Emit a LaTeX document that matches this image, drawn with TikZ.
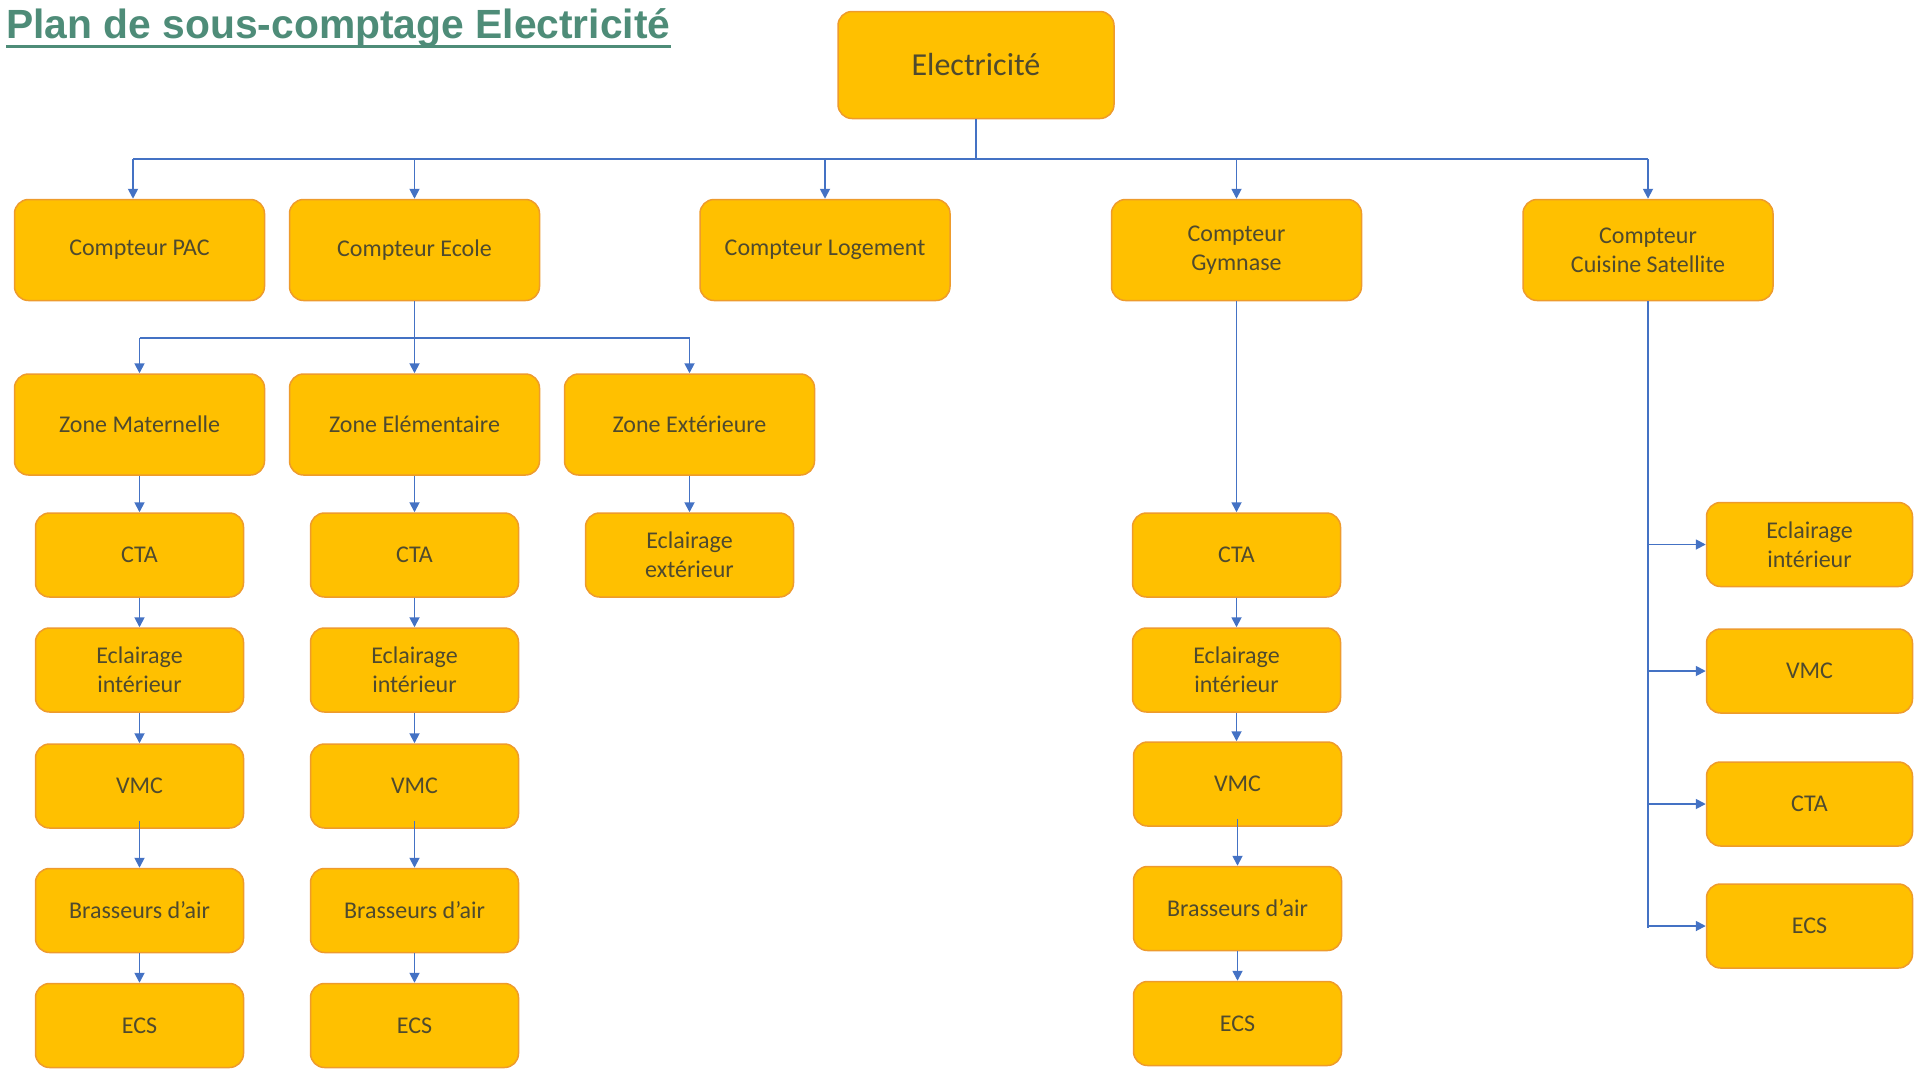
\documentclass[tikz,border=0pt]{standalone}
\usepackage{fontspec}
\setmainfont{Carlito}
\newfontfamily\titlefont{Liberation Sans}
\usetikzlibrary{arrows.meta}
\definecolor{boxfill}{HTML}{FFC000}
\definecolor{boxborder}{HTML}{EE9B2C}
\definecolor{boxtext}{HTML}{4F4A2E}
\definecolor{conncol}{HTML}{4472C4}
\definecolor{titlecol}{HTML}{4E8C78}
\tikzset{
  boxbase/.style={draw=boxborder, fill=boxfill, rounded corners=14pt, line width=1.5pt,
    text=boxtext, align=center, inner sep=0pt, font=\fontsize{24}{29}\selectfont},
  topbox/.style={boxbase, minimum width=276pt, minimum height=107pt, font=\fontsize{32}{38}\selectfont},
  bigbox/.style={boxbase, minimum width=250pt, minimum height=101pt},
  smallbox/.style={boxbase, minimum width=208pt, minimum height=84pt},
  conn/.style={draw=conncol, line width=1.8pt},
  arr/.style={conn, -{Triangle[length=10pt,width=10pt]}}
}
\begin{document}
\begin{tikzpicture}[x=1pt,y=-1pt]
\useasboundingbox (0,0) rectangle (1915,1069);
% title
\node[anchor=base west, inner sep=0pt, text=titlecol, font=\titlefont\bfseries\fontsize{40.8}{48}\selectfont] (title) at (6,38) {Plan de sous-comptage Electricité};
\draw[titlecol, line width=3pt] ([yshift=-8pt]title.base west) -- ([yshift=-8pt]title.base east);
% top
\node[topbox] (elec) at (976,65) {Electricité};
% row 1
\node[bigbox] (pac) at (139.5,250) {Compteur PAC};
\node[bigbox] (ecole) at (414.5,250) {Compteur Ecole};
\node[bigbox] (loge) at (825,250) {Compteur Logement};
\node[bigbox] (gym) at (1236.5,250) {Compteur\\Gymnase};
\node[bigbox] (cuis) at (1648,250) {Compteur\\Cuisine Satellite};
% zones
\node[bigbox] (mat) at (139.5,424.5) {Zone Maternelle};
\node[bigbox] (elem) at (414.5,424.5) {Zone Elémentaire};
\node[bigbox] (ext) at (689.5,424.5) {Zone Extérieure};
% maternelle column
\node[smallbox] (cta1) at (139.5,555) {CTA};
\node[smallbox] (ecl1) at (139.5,670) {Eclairage\\intérieur};
\node[smallbox] (vmc1) at (139.5,786) {VMC};
\node[smallbox] (bra1) at (139.5,910.5) {Brasseurs d’air};
\node[smallbox] (ecs1) at (139.5,1025.5) {ECS};
% elementaire column
\node[smallbox] (cta2) at (414.5,555) {CTA};
\node[smallbox] (ecl2) at (414.5,670) {Eclairage\\intérieur};
\node[smallbox] (vmc2) at (414.5,786) {VMC};
\node[smallbox] (bra2) at (414.5,910.5) {Brasseurs d’air};
\node[smallbox] (ecs2) at (414.5,1025.5) {ECS};
% exterieur
\node[smallbox] (eclx) at (689.5,555) {Eclairage\\extérieur};
% gymnase column
\node[smallbox] (cta3) at (1236.5,555) {CTA};
\node[smallbox] (ecl3) at (1236.5,670) {Eclairage\\intérieur};
\node[smallbox] (vmc3) at (1237.5,784) {VMC};
\node[smallbox] (bra3) at (1237.5,908.5) {Brasseurs d’air};
\node[smallbox] (ecs3) at (1237.5,1023.5) {ECS};
% cuisine column
\node[smallbox, minimum width=206pt] (ecl4) at (1809.5,544.5) {Eclairage\\intérieur};
\node[smallbox, minimum width=206pt] (vmc4) at (1809.5,671) {VMC};
\node[smallbox, minimum width=206pt] (cta4) at (1809.5,804) {CTA};
\node[smallbox, minimum width=206pt] (ecs4) at (1809.5,926) {ECS};
% main bus
\coordinate (busc) at (976,159);
\coordinate (b1) at (133,159);
\coordinate (b5) at (1648,159);
\draw[conn] (elec.south) -- (busc);
\draw[conn] (b1) -- (b5);
\draw[arr] (b1) -- (b1 |- pac.north);
\draw[arr] (ecole.north |- busc) -- (ecole.north);
\draw[arr] (loge.north |- busc) -- (loge.north);
\draw[arr] (gym.north |- busc) -- (gym.north);
\draw[arr] (b5) -- (cuis.north);
% ecole bus
\coordinate (ebus) at (414.5,338);
\draw[conn] (ecole.south) -- (ebus);
\draw[conn] (mat.north |- ebus) -- (ext.north |- ebus);
\draw[arr] (mat.north |- ebus) -- (mat.north);
\draw[arr] (ebus) -- (elem.north);
\draw[arr] (ext.north |- ebus) -- (ext.north);
% columns
\draw[arr] (mat.south) -- (cta1.north);
\draw[arr] (cta1.south) -- (ecl1.north);
\draw[arr] (ecl1.south) -- (vmc1.north);
\draw[arr] ([yshift=8pt]vmc1.south) -- (bra1.north);
\draw[arr] (bra1.south) -- (ecs1.north);
\draw[arr] (elem.south) -- (cta2.north);
\draw[arr] (cta2.south) -- (ecl2.north);
\draw[arr] (ecl2.south) -- (vmc2.north);
\draw[arr] ([yshift=8pt]vmc2.south) -- (bra2.north);
\draw[arr] (bra2.south) -- (ecs2.north);
\draw[arr] (ext.south) -- (eclx.north);
\draw[arr] (gym.south) -- (cta3.north);
\draw[arr] (cta3.south) -- (ecl3.north -| cta3.south);
\draw[arr] (ecl3.south) -- (ecl3.south |- vmc3.north);
\draw[arr] ([yshift=8pt]vmc3.south) -- (bra3.north);
\draw[arr] (bra3.south) -- (ecs3.north);
% cuisine tree
\coordinate (cend) at (1648,928);
\draw[conn] (cuis.south) -- (cend);
\draw[arr] (cuis.south |- ecl4.west) -- (ecl4.west);
\draw[arr] (cuis.south |- vmc4.west) -- (vmc4.west);
\draw[arr] (cuis.south |- cta4.west) -- (cta4.west);
\draw[arr] (cuis.south |- ecs4.west) -- (ecs4.west);
\end{tikzpicture}
\end{document}
